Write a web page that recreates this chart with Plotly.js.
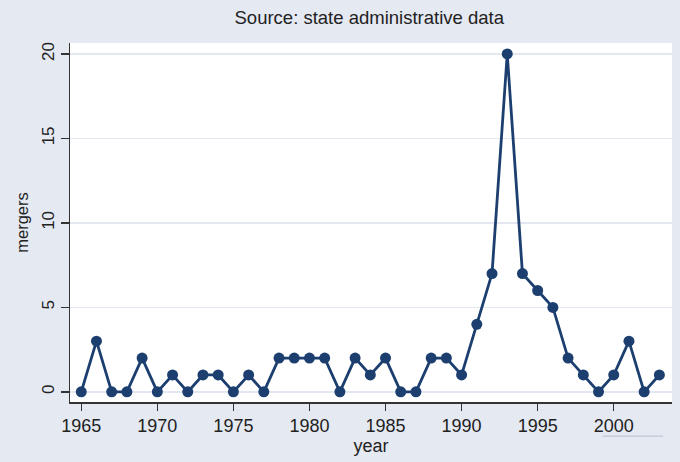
<!DOCTYPE html>
<html>
<head>
<meta charset="utf-8">
<script src="https://cdn.plot.ly/plotly-3.0.1.min.js"></script>
<style>html,body{margin:0;padding:0;background:#e5e9f2;}#chart{width:680px;height:462px;}</style>
</head>
<body>
<div id="chart"></div>
<script>
var years = [1965,1966,1967,1968,1969,1970,1971,1972,1973,1974,1975,1976,1977,1978,1979,1980,1981,1982,1983,1984,1985,1986,1987,1988,1989,1990,1991,1992,1993,1994,1995,1996,1997,1998,1999,2000,2001,2002,2003];
var mergers = [0,3,0,0,2,0,1,0,1,1,0,1,0,2,2,2,2,0,2,1,2,0,0,2,2,1,4,7,20,7,6,5,2,1,0,1,3,0,1];
var xTicks = [1965,1970,1975,1980,1985,1990,1995,2000];
var yTicks = [0,5,10,15,20];

var trace = {
  x: years, y: mergers, type: 'scatter', mode: 'lines+markers',
  line: {color: '#1c3f70', width: 2.8},
  marker: {color: '#1c3f70', size: 11, symbol: 'circle'},
  hoverinfo: 'x+y'
};
var fam = 'Liberation Sans, Arial, sans-serif';
var layout = {
  width: 680, height: 462,
  paper_bgcolor: '#e5e9f2', plot_bgcolor: '#ffffff',
  margin: {l: 70, r: 8, t: 43, b: 60},
  font: {family: fam, size: 17, color: '#222'},
  showlegend: false,
  title: {text: 'Source: state administrative data', x: 0.543, xanchor: 'center', y: 0.963, yanchor: 'middle', font: {family: fam, size: 18.5, color: '#222'}},
  xaxis: {
    range: [1964.26, 2003.83], tickvals: xTicks, ticktext: xTicks.map(String),
    showgrid: false, zeroline: false, showline: true, linecolor: '#333', linewidth: 1.5,
    ticks: 'outside', ticklen: 7, tickwidth: 1.5, tickcolor: '#333',
    tickfont: {family: fam, size: 18, color: '#222'},
    title: {text: 'year', font: {family: fam, size: 18, color: '#222'}, standoff: 4}
  },
  yaxis: {
    range: [-0.6, 20.65], tickvals: yTicks, ticktext: yTicks.map(String), tickangle: -90,
    showgrid: true, gridcolor: '#e3e7f0', gridwidth: 1.5, zeroline: false,
    showline: true, linecolor: '#333', linewidth: 1.5,
    ticks: 'outside', ticklen: 8, tickwidth: 1.5, tickcolor: '#333',
    tickfont: {family: fam, size: 17, color: '#222'},
    title: {text: 'mergers', font: {family: fam, size: 16.5, color: '#222'}, standoff: 6}
  },
  shapes: [
    {type: 'line', xref: 'paper', yref: 'paper', x0: 0.885, x1: 0.985, y0: -0.095, y1: -0.095, line: {color: '#b8bcc6', width: 1}}
  ]
};
Plotly.newPlot('chart', [trace], layout, {displayModeBar: false, staticPlot: true});
</script>
</body>
</html>
